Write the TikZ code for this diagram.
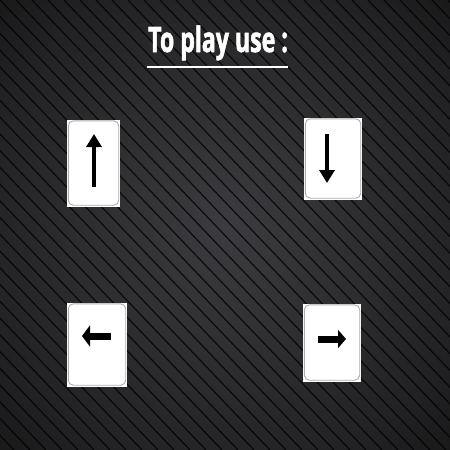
\documentclass[tikz,border=0pt]{standalone}
\usepackage{fontspec}
\usetikzlibrary{arrows.meta,calc}
\newfontfamily\titlefont[FakeStretch=0.66,FakeBold=1.6]{Open Sans}
\definecolor{bgmid}{RGB}{60,60,64}
\definecolor{bghalf}{RGB}{34,34,36}
\definecolor{bgedge}{RGB}{8,8,8}
\pgfdeclareradialshading{bgglow}{\pgfpoint{0bp}{0bp}}{color(0bp)=(bgmid); color(28bp)=(bghalf); color(50bp)=(bgedge)}
\tikzset{
  stripe/.style={black,opacity=.8,line width=1.2pt},
  keycap/.style={fill=white,inner sep=0pt,draw=none},
  keyrim/.style={draw=gray!65,line width=.9pt,rounded corners=5pt},
  keyarrow/.style={line width=#1,-{Triangle[length=13pt,width=15pt]}},
  keyarrow/.default=3.5pt
}
\begin{document}
\begin{tikzpicture}[x=1pt,y=-1pt,line join=round]
  \useasboundingbox (0,0) rectangle (450,450);
  \shade[shading=bgglow] (0,0) rectangle (450,450);
  \begin{scope}
    \clip (0,0) rectangle (450,450);
    \foreach \k in {-31,...,31}
      \draw[stripe] (\k*16,0) -- ++(430,450);
  \end{scope}
  \node (title) [anchor=base west,inner sep=0pt,text=white,font=\titlefont\bfseries\fontsize{35}{40}\selectfont] at (148,52) {To play use :};
  \coordinate (ul west) at (147,67);
  \coordinate (ul east) at (288,67);
  \draw[white,line width=2pt] (ul west) -- (ul east);
  \node (up) [keycap,minimum width=53pt,minimum height=87pt] at (93.5,163.5) {};
  \node (down) [keycap,minimum width=58pt,minimum height=82pt] at (333,159) {};
  \node (left) [keycap,minimum width=60pt,minimum height=84pt] at (97,345) {};
  \node (right) [keycap,minimum width=58pt,minimum height=78pt] at (332,343) {};
  \foreach \key in {up,down,left,right}
    \draw[keyrim] ($(\key.north west)+(1.5,1)$) rectangle ($(\key.south east)+(-1.5,-2)$);
  \coordinate (up tail) at (94,187);
  \coordinate (up tip) at (94,134);
  \coordinate (down tail) at (327,134);
  \coordinate (down tip) at (327,183);
  \coordinate (left tail) at (111,336);
  \coordinate (left tip) at (82,336);
  \coordinate (right tail) at (318,339);
  \coordinate (right tip) at (346,339);
  \draw[keyarrow] (up tail) -- (up tip);
  \draw[keyarrow] (down tail) -- (down tip);
  \draw[line width=7pt,-{Triangle[length=8pt,width=21pt]}] (left tail) -- (left tip);
  \draw[line width=7pt,-{Triangle[length=8pt,width=18pt]}] (right tail) -- (right tip);
\end{tikzpicture}
\end{document}
